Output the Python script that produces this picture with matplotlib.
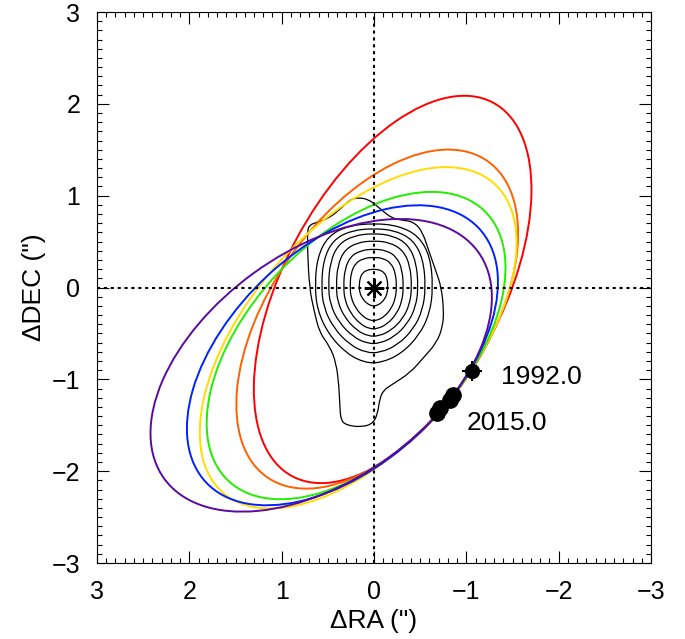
import numpy as np
import matplotlib
matplotlib.use("Agg")
import matplotlib.pyplot as plt
from matplotlib.patches import Ellipse, PathPatch
from matplotlib.path import Path

plt.rcParams['font.family'] = ['Liberation Sans', 'DejaVu Sans']

# projected orbits: centre, full axes, position angle (data coords)
orbit_colors = ['#ff0000', '#ff6000', '#ffdd00', '#22ee00', '#0022ff', '#5a0a9e']
orbit_x0 = [-0.202, -0.035, 0.171, 0.194, 0.342, 0.572]
orbit_y0 = [-0.021, -0.344, -0.548, -0.632, -0.738, -0.847]
orbit_w = [4.613, 4.189, 4.468, 4.041, 4.048, 4.202]
orbit_h = [2.356, 2.323, 2.374, 2.313, 2.374, 2.484]
orbit_ang = [-61.9, -55.4, -49.1, -46.9, 136.8, 143.9]

# measured positions of the companion
first_x, first_y = -1.06, -0.91
obs_x = [-0.86, -0.82, -0.72, -0.68]
obs_y = [-1.17, -1.22, -1.31, -1.37]

# contour outlines of the image (inner -> outer), dRA, dDEC, closed loops
c0 = [(0, .20), (-.063, .192), (-.114, .16), (-.143, .096), (-.15, 0), (-.141, -.07), (-.114, -.128),
      (-.069, -.176), (-.018, -.20), (.024, -.20), (.074, -.176), (.123, -.124), (.154, -.06),
      (.16, .006), (.154, .094), (.125, .16), (.07, .192)]
c1 = [(0, .33), (-.103, .317), (-.186, .264), (-.233, .158), (-.245, 0), (-.23, -.126), (-.186, -.23),
      (-.113, -.317), (-.029, -.36), (.039, -.36), (.12, -.317), (.20, -.223), (.25, -.108),
      (.26, .01), (.25, .155), (.203, .264), (.114, .317)]
c2 = [(0, .42), (-.134, .403), (-.243, .336), (-.304, .202), (-.32, 0), (-.301, -.158), (-.243, -.288),
      (-.147, -.396), (-.038, -.45), (.05, -.45), (.152, -.396), (.254, -.279), (.317, -.135),
      (.33, .013), (.317, .197), (.257, .336), (.145, .403)]
c3 = [(0, .51), (-.172, .49), (-.312, .408), (-.39, .245), (-.41, 0), (-.385, -.186), (-.312, -.339),
      (-.189, -.466), (-.049, -.53), (.062, -.53), (.189, -.466), (.316, -.329), (.394, -.159),
      (.41, .015), (.394, .24), (.32, .408), (.18, .49)]
c4 = [(0, .59), (-.202, .566), (-.365, .472), (-.456, .283), (-.48, 0), (-.451, -.214), (-.365, -.39),
      (-.221, -.537), (-.058, -.61), (.074, -.61), (.228, -.537), (.381, -.378), (.475, -.183),
      (.495, .018), (.475, .277), (.386, .472), (.218, .566)]
c5 = [(0, .645), (-.235, .619), (-.426, .516), (-.532, .31), (-.56, 0), (-.526, -.249), (-.426, -.454),
      (-.258, -.625), (-.067, -.71), (.086, -.71), (.262, -.625), (.439, -.44), (.547, -.213),
      (.57, .019), (.547, .303), (.445, .516), (.251, .619)]
c6 = [(0, .70), (-.269, .672), (-.486, .56), (-.608, .336), (-.64, 0), (-.602, -.287), (-.486, -.525),
      (-.294, -.722), (-.077, -.82), (.096, -.82), (.294, -.722), (.493, -.508), (.614, -.246),
      (.64, .021), (.614, .329), (.499, .56), (.282, .672)]
c7 = [(0.70, 0.68), (0.62, 0.71), (0.50, 0.75), (0.38, 0.84), (0.26, 0.96), (0.15, 0.98), (0.06, 0.955),
      (0.0, 0.915), (-0.10, 0.83), (-0.18, 0.765), (-0.28, 0.735), (-0.42, 0.72), (-0.52, 0.62),
      (-0.60, 0.38), (-0.67, 0.18), (-0.73, 0.0), (-0.755, -0.25), (-0.745, -0.42), (-0.68, -0.60),
      (-0.53, -0.77), (-0.39, -0.93), (-0.19, -1.06), (-0.10, -1.12), (-0.06, -1.22), (-0.04, -1.37),
      (0.01, -1.48), (0.13, -1.52), (0.30, -1.50), (0.36, -1.44), (0.37, -1.29), (0.38, -1.07),
      (0.41, -0.82), (0.48, -0.64), (0.59, -0.49), (0.65, -0.25), (0.70, 0.0), (0.72, 0.41), (0.72, 0.62)]
contours = [c0, c1, c2, c3, c4, c5, c6, c7]


def smooth_loop(pts):
    # closed quadratic-bezier path using the read points as control points
    p = np.array(pts, dtype=float)
    mids = (p + np.roll(p, -1, axis=0)) / 2
    verts = [mids[-1]]
    codes = [Path.MOVETO]
    for i in range(len(p)):
        verts += [p[i], mids[i]]
        codes += [Path.CURVE3, Path.CURVE3]
    return Path(verts, codes)


fig = plt.figure(figsize=(6.85, 6.39), dpi=100)
ax = fig.add_axes([0.1416, 0.1189, 0.8088, 0.8623])

for c in contours:
    ax.add_patch(PathPatch(smooth_loop(c), fill=False, edgecolor='k', lw=0.9))

ax.axhline(0, color='k', ls=(0, (1.5, 1.8)), lw=1.5)
ax.axvline(0, color='k', ls=(0, (1.5, 1.8)), lw=1.5)

for i in range(len(orbit_colors)):
    ax.add_patch(Ellipse((orbit_x0[i], orbit_y0[i]), orbit_w[i], orbit_h[i], angle=orbit_ang[i],
                         fill=False, color=orbit_colors[i], lw=1.4))

ax.plot(0, 0, marker=(8, 2, 0), color='k', ms=14, mew=1.5)
ax.plot(obs_x, obs_y, 'o', color='k', ms=11)
ax.plot(first_x, first_y, '+', color='k', ms=15, mew=1.5)
ax.plot(first_x, first_y, 'o', color='k', ms=10)

ax.text(-1.38, -0.97, '1992.0', fontsize=19, va='center')
ax.text(-1.00, -1.47, '2015.0', fontsize=19, va='center')

ax.set_xlim(3, -3)
ax.set_ylim(-3, 3)
ax.set_xticks([3, 2, 1, 0, -1, -2, -3])
ax.set_yticks([-3, -2, -1, 0, 1, 2, 3])
ax.set_xticklabels(['3', '2', '1', '0', '\u22121', '\u22122', '\u22123'])
ax.set_yticklabels(['\u22123', '\u22122', '\u22121', '0', '1', '2', '3'])
ax.xaxis.set_minor_locator(matplotlib.ticker.MultipleLocator(0.1))
ax.yaxis.set_minor_locator(matplotlib.ticker.MultipleLocator(0.1))
ax.tick_params(which='both', direction='in', top=True, right=True, labelsize=18)
ax.tick_params(which='major', length=8.6, width=0.8, pad=12)
ax.tick_params(which='minor', length=3.6, width=0.8)
ax.set_xlabel('\u0394RA (")', fontsize=19)
ax.set_ylabel('\u0394DEC (")', fontsize=19)

fig.savefig('out.png', dpi=100)
